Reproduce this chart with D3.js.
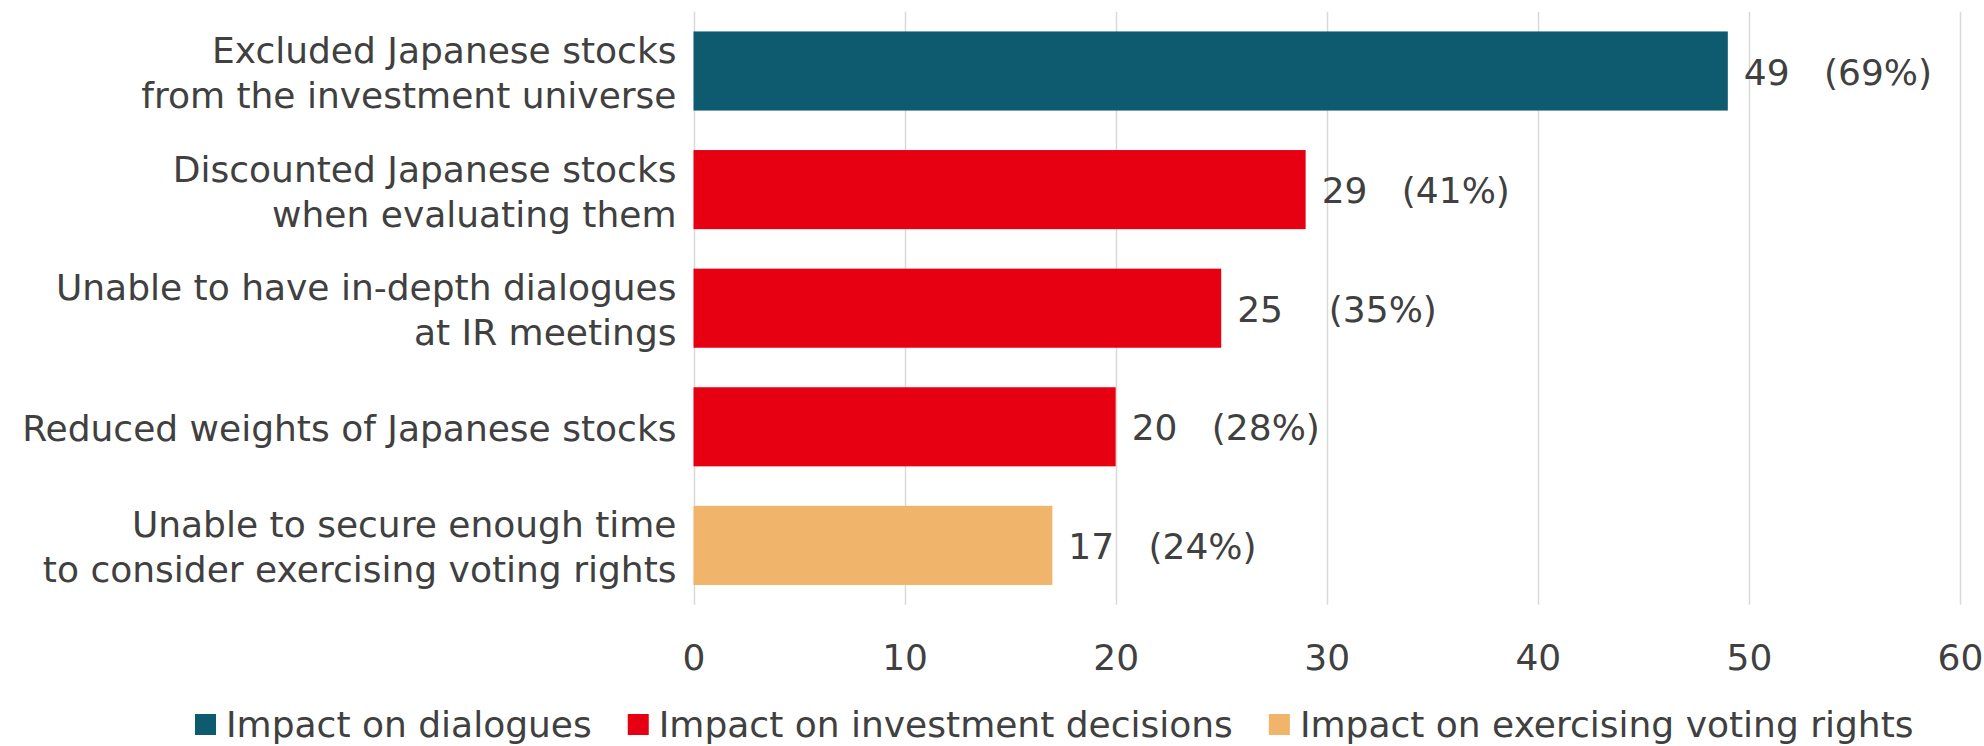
<!DOCTYPE html>
<html><head><meta charset="utf-8">
<script src="https://cdn.jsdelivr.net/npm/d3@7"></script>
<style>
html,body{margin:0;padding:0;background:#fff;}
svg text{font-family:Verdana,"DejaVu Sans",sans-serif;fill:#404040;}
</style></head>
<body>
<svg id="chart" width="1984" height="746"></svg>
<script>
const categories = [
  ["Excluded Japanese stocks","from the investment universe"],
  ["Discounted Japanese stocks","when evaluating them"],
  ["Unable to have in-depth dialogues","at IR meetings"],
  ["Reduced weights of Japanese stocks"],
  ["Unable to secure enough time","to consider exercising voting rights"]
];
const values = [49, 29, 25, 20, 17];
const valueLabels = ["49   (69%)", "29   (41%)", "25    (35%)", "20   (28%)", "17   (24%)"];
const seriesOf = [0, 1, 1, 1, 2];
const seriesNames = ["Impact on dialogues", "Impact on investment decisions", "Impact on exercising voting rights"];
const seriesColors = ["#0E5A6E", "#E60012", "#F0B46B"];
const xTicks = [0, 10, 20, 30, 40, 50, 60];

const svg = d3.select("#chart");
const pLeft = 693.5, pRight = 1960, pTop = 11.7, pBottom = 604.7;
const fs = 36;

const x = d3.scaleLinear().domain([0, 60]).range([pLeft, pRight]);
const y = d3.scaleBand().domain(d3.range(values.length)).range([pTop, pBottom]).paddingInner(0.333).paddingOuter(0.1665);

// gridlines
svg.append("g").selectAll("line").data(xTicks).join("line")
  .attr("x1", d => Math.round(x(d)) + 0.5).attr("x2", d => Math.round(x(d)) + 0.5)
  .attr("y1", pTop).attr("y2", pBottom)
  .attr("stroke", "#d9d9d9").attr("stroke-width", 1.5);

// x axis labels
const xAxis = d3.axisBottom(x).tickValues(xTicks).tickSize(0).tickPadding(0);
const gx = svg.append("g").attr("transform", `translate(0,${pBottom + 40})`).call(xAxis);
gx.select(".domain").remove();
gx.attr("font-family", null).attr("font-size", null);
gx.selectAll("text").attr("font-size", fs).attr("fill", "#404040").attr("dy", "0.71em");

// bars
svg.append("g").selectAll("rect").data(values).join("rect")
  .attr("x", x(0)).attr("y", (d, i) => y(i))
  .attr("width", d => x(d) - x(0)).attr("height", y.bandwidth())
  .attr("fill", (d, i) => seriesColors[seriesOf[i]]);

// value labels
svg.append("g").selectAll("text").data(values).join("text")
  .attr("x", d => x(d) + 16).attr("y", (d, i) => y(i) + y.bandwidth() / 2)
  .attr("dy", "0.38em").attr("font-size", fs)
  .style("white-space", "pre")
  .text((d, i) => valueLabels[i]);

// category labels
const lineH = 45;
const cg = svg.append("g");
categories.forEach((lines, i) => {
  const cy = y(i) + y.bandwidth() / 2;
  const t = cg.append("text").attr("text-anchor", "end").attr("font-size", fs);
  lines.forEach((ln, j) => {
    const off = (j - (lines.length - 1) / 2) * lineH;
    t.append("tspan").attr("x", pLeft - 17).attr("y", cy + off).attr("dy", "0.4em").text(ln);
  });
});

// legend
const lg = svg.append("g");
let lx = 195;
seriesNames.forEach((name, i) => {
  lg.append("rect").attr("x", lx).attr("y", 714).attr("width", 21).attr("height", 21).attr("fill", seriesColors[i]);
  const t = lg.append("text").attr("x", lx + 31).attr("y", 737).attr("font-size", fs).text(name);
  const w = t.node().getComputedTextLength();
  lx = lx + 31 + w + 36;
});
</script>
</body></html>
